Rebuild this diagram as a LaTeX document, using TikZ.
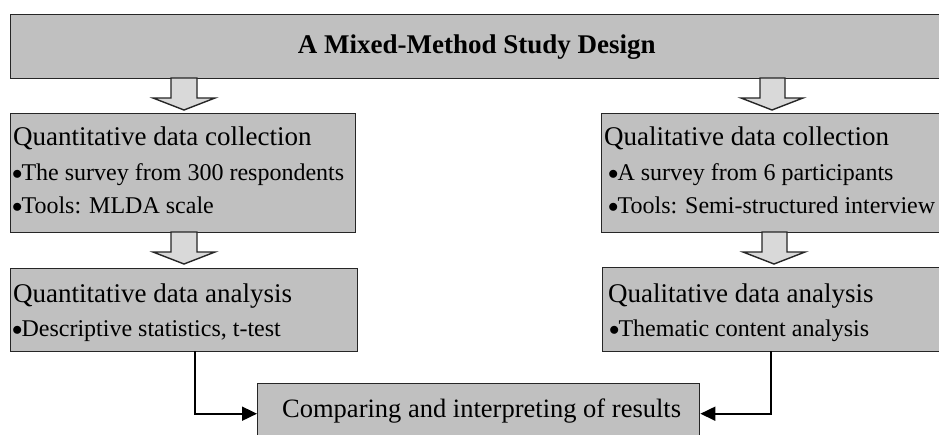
\documentclass[tikz,border=0pt]{standalone}
\usepackage{fontspec}
\setmainfont{Liberation Serif}
\usetikzlibrary{arrows.meta}
\definecolor{boxgray}{HTML}{C0C0C0}
\definecolor{arrowgray}{HTML}{D9D9D9}
\newcommand\bul{\kern1pt\raisebox{0.5pt}{\fontsize{20}{20}\selectfont$\bullet$}\kern-1pt}
\begin{document}
\begin{tikzpicture}[x=1pt,y=-1pt,
  box/.style={draw=black!85, line width=1.4pt, fill=boxgray, inner sep=0pt, anchor=north west},
  blk/.style={draw=black!85, line width=1.4pt, fill=arrowgray, line join=miter},
  conn/.style={line width=1.8pt, -{Triangle[length=15pt,width=14pt]}},
  head/.style={font=\fontsize{27}{32}\selectfont, anchor=base west, inner sep=0pt},
  item/.style={font=\fontsize{24}{28}\selectfont, anchor=base west, inner sep=0pt}]
\useasboundingbox (0,0) rectangle (939,434);
\clip (0,0) rectangle (939,434);
\fill[white] (0,0) rectangle (939,434);

% boxes
\node[box, minimum width=932pt, minimum height=64pt] (top) at (10,14) {};
\node[box, minimum width=345pt, minimum height=119pt] (qc) at (10,113) {};
\node[box, minimum width=347pt, minimum height=83pt] (qa) at (10,268) {};
\node[box, minimum width=345pt, minimum height=119pt] (lc) at (601,113) {};
\node[box, minimum width=345pt, minimum height=84pt] (la) at (602,267) {};
\node[box, minimum width=442pt, minimum height=60pt] (cmp) at (257,383) {};

% texts
\node[font=\bfseries\fontsize{27}{32}\selectfont, inner sep=0pt] (title) at (top.center) {A Mixed-Method Study Design};
\node[head] (qct) at (13,145) {Quantitative data collection};
\node[item] (qc1) at (11,180) {\bul The survey from 300 respondents};
\node[item] (qc2) at (11,213) {\bul Tools: MLDA scale};
\node[head] (qat) at (13,302) {Quantitative data analysis};
\node[item] (qa1) at (11,336) {\bul Descriptive statistics, t-test};
\node[head] (lct) at (604,145) {Qualitative data collection};
\node[item] (lc1) at (607,180) {\bul A survey from 6 participants};
\node[item] (lc2) at (607,213) {\bul Tools: Semi-structured interview};
\node[head] (lat) at (608,302) {Qualitative data analysis};
\node[item] (la1) at (608,336) {\bul Thematic content analysis};
\node[font=\fontsize{26.5}{32}\selectfont, anchor=base west, inner sep=0pt] (cmpt) at (282,417) {Comparing and interpreting of results};

% block arrows
\draw[blk] (171,78) -- (197,78) -- (197,98) -- (215,98) -- (184,110) -- (153,98) -- (171,98) -- cycle;
\draw[blk] (171,232) -- (197,232) -- (197,252) -- (215,252) -- (184,264) -- (153,252) -- (171,252) -- cycle;
\draw[blk] (760,78) -- (785,78) -- (785,98) -- (803,98) -- (772,110) -- (741,98) -- (760,98) -- cycle;
\draw[blk] (762,232) -- (787,232) -- (787,252) -- (805,252) -- (774,264) -- (743,252) -- (762,252) -- cycle;

% connectors
\coordinate (c1) at (195,351);
\coordinate (c2) at (771,351);
\draw[conn] (c1) |- (cmp.west);
\draw[conn] (c2) |- (cmp.east);
\end{tikzpicture}
\end{document}
